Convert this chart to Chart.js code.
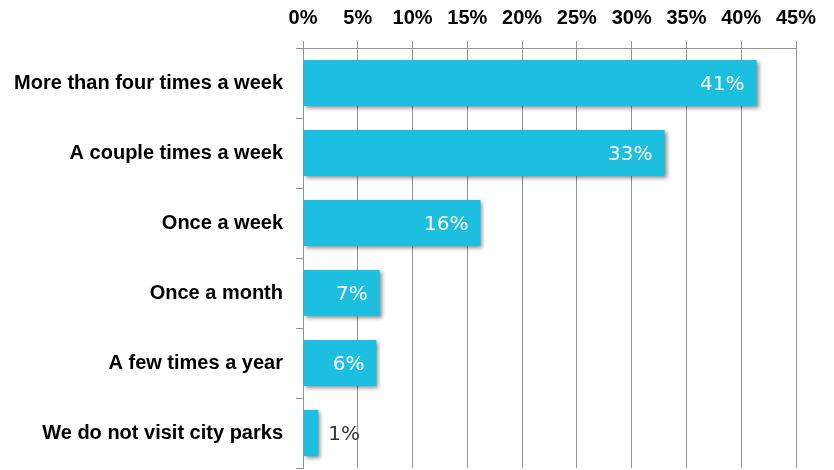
<!DOCTYPE html>
<html>
<head>
<meta charset="utf-8">
<script src="https://cdn.jsdelivr.net/npm/chart.js@4/dist/chart.umd.min.js"></script>
<style>
  html, body { margin: 0; padding: 0; background: #fff; }
  #wrap { width: 834px; height: 470px; }
</style>
</head>
<body>
<div id="wrap"><canvas id="mycanvas" width="834" height="470"></canvas></div>
<script>
// how often people visit city parks
var categories = [
    'More than four times a week',
    'A couple times a week',
    'Once a week',
    'Once a month',
    'A few times a year',
    'We do not visit city parks'
];
var shares = [41.4, 33.0, 16.2, 7.0, 6.7, 1.4];
var shareLabels = ['41%', '33%', '16%', '7%', '6%', '1%'];
var xTicks = [0, 5, 10, 15, 20, 25, 30, 35, 40, 45];

var gridColor = '#939393';

// soft grey shadow behind the bars
var barShadow = {
    id: 'barShadow',
    beforeDatasetDraw: function(chart) {
        var ctx = chart.ctx;
        ctx.save();
        ctx.shadowColor = 'rgba(0,0,0,0.45)';
        ctx.shadowBlur = 4;
        ctx.shadowOffsetX = 2;
        ctx.shadowOffsetY = 2;
    },
    afterDatasetDraw: function(chart) {
        chart.ctx.restore();
    }
};

// value text at the end of each bar
var valueLabels = {
    id: 'valueLabels',
    afterDatasetsDraw: function(chart) {
        var ctx = chart.ctx;
        var meta = chart.getDatasetMeta(0);
        ctx.save();
        ctx.font = '20px "DejaVu Sans"';
        ctx.textBaseline = 'middle';
        meta.data.forEach(function(bar, i) {
            var txt = shareLabels[i];
            var w = ctx.measureText(txt).width;
            var len = bar.x - bar.base;
            if (len > w + 20) {
                ctx.fillStyle = '#ffffff';
                ctx.textAlign = 'right';
                ctx.fillText(txt, bar.x - 12, bar.y + 2);
            } else {
                ctx.fillStyle = '#333333';
                ctx.textAlign = 'left';
                ctx.fillText(txt, bar.x + 10, bar.y + 2);
            }
        });
        ctx.restore();
    }
};

var ctx = document.getElementById('mycanvas');

var barGraph = new Chart(ctx, {
    type: 'bar',
    data: {
        labels: categories,
        datasets: [{
            data: shares,
            backgroundColor: '#1cbfdf',
            borderWidth: 0,
            categoryPercentage: 1.0,
            barPercentage: 0.66
        }]
    },
    options: {
        indexAxis: 'y',
        responsive: false,
        animation: false,
        layout: { padding: { left: 0, right: 38, top: 0, bottom: 2 } },
        plugins: {
            legend: { display: false },
            tooltip: { enabled: false }
        },
        scales: {
            x: {
                position: 'top',
                min: 0,
                max: 45,
                afterBuildTicks: function(scale) {
                    scale.ticks = xTicks.map(function(v) { return { value: v }; });
                },
                afterFit: function(scale) {
                    scale.height = 48;
                    scale.paddingLeft = 0;
                    scale.paddingRight = 0;
                },
                ticks: {
                    padding: 11,
                    color: '#000',
                    font: { family: '"Liberation Sans"', size: 20, weight: 'bold' },
                    maxRotation: 0,
                    callback: function(v) { return v + '%'; }
                },
                grid: { color: gridColor, lineWidth: 1, tickLength: 7 },
                border: { color: gridColor, width: 1 }
            },
            y: {
                afterFit: function(scale) {
                    scale.width = 303;
                    scale.paddingTop = 0;
                    scale.paddingBottom = 0;
                },
                ticks: {
                    padding: 13,
                    color: '#000',
                    font: { family: '"Liberation Sans"', size: 20, weight: 'bold' }
                },
                grid: { color: gridColor, drawOnChartArea: false, tickLength: 7 },
                border: { color: gridColor, width: 1 }
            }
        }
    },
    plugins: [barShadow, valueLabels]
});
</script>
</body>
</html>
